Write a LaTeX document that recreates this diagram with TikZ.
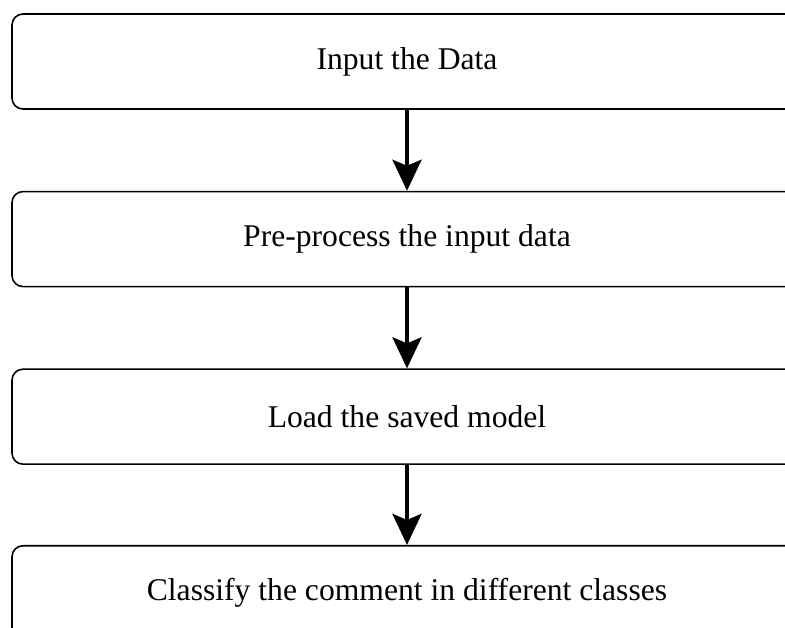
\documentclass[tikz,border=0pt]{standalone}
\usepackage{fontspec}
\setmainfont{Liberation Serif}
\usetikzlibrary{positioning,arrows.meta}

\begin{document}
\begin{tikzpicture}
\tikzstyle{step box}=[draw,line width=0.9pt,rounded corners=0.22cm,minimum width=15.8cm,minimum height=1.9cm,font=\fontsize{18}{20}\selectfont]
\tikzstyle{flow}=[line width=2.3pt,-{Stealth[length=0.62cm,width=0.58cm,inset=0.12cm]}]
\useasboundingbox (0,0) rectangle (15.7,-12.56);
\clip (0,0) rectangle (15.7,-12.56);
\begin{scope}[node distance=1.62cm]
    \node [step box] (input) at (8.14,-1.23) {Input the Data};
    \node [step box,below=of input] (prep) {Pre-process the input data};
    \node [step box,below=of prep] (load) {Load the saved model};
    \node [step box,below=1.6cm of load] (classify) {Classify the comment in different classes};
    \draw[flow] (input) -- (prep);
    \draw[flow] (prep) -- (load);
    \draw[flow] (load) -- (classify);
\end{scope}
\end{tikzpicture}
\end{document}
